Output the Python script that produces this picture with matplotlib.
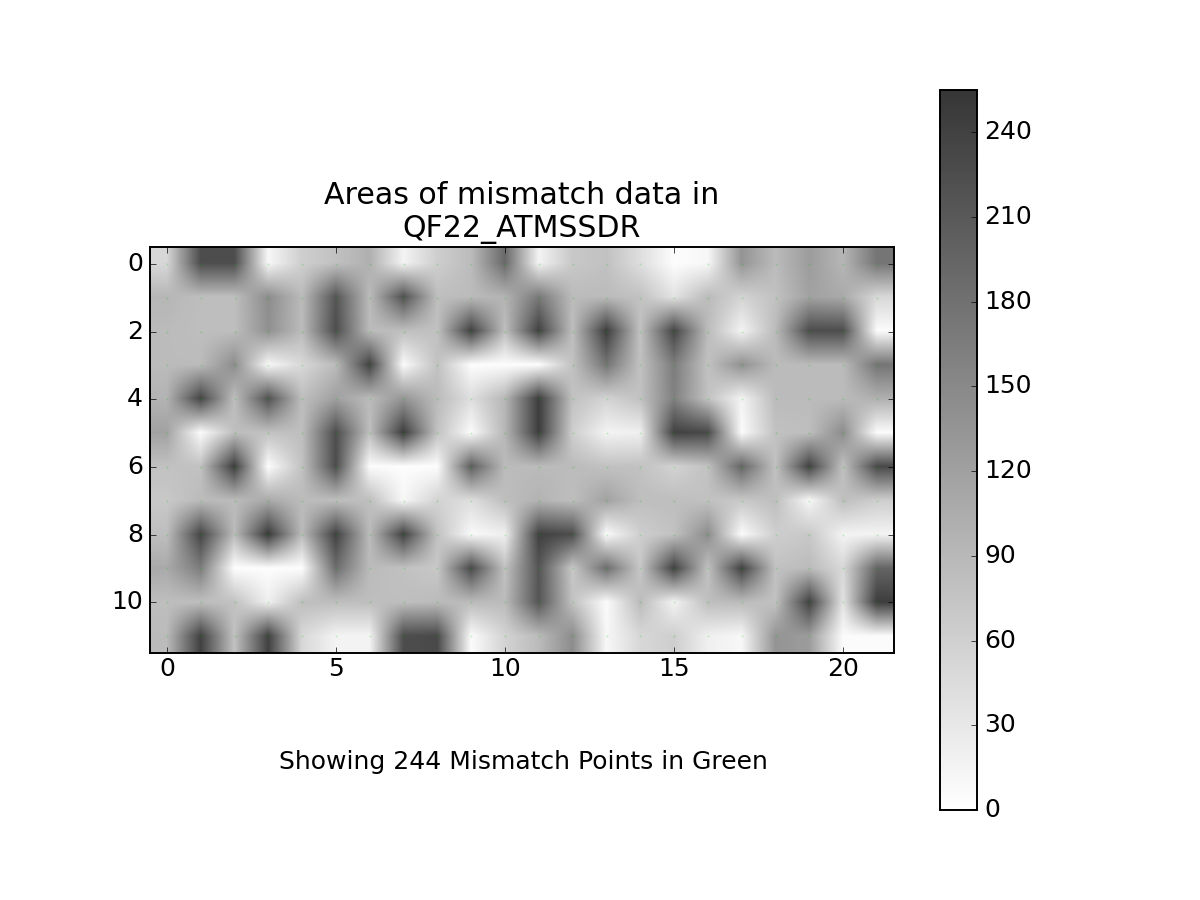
# Areas of mismatch data, grey image with colorbar
import numpy as np
import matplotlib
matplotlib.use("Agg")
import matplotlib.pyplot as plt
from matplotlib.colors import LinearSegmentedColormap
from matplotlib.ticker import MultipleLocator

plt.style.use("classic")
plt.rcParams.update({"font.family": "DejaVu Sans", "font.size": 18})

title_text = "Areas of mismatch data in\nQF22_ATMSSDR"
note_text = "Showing 244 Mismatch Points in Green"
n_points = 244

# values, one list per row
row0 = [50, 225, 225, 10, 62, 78, 100, 15, 62, 86, 190, 15, 70, 78, 42, 3, 10, 135, 86, 125, 92, 175]
row1 = [92, 82, 82, 145, 86, 215, 86, 220, 82, 86, 96, 170, 86, 86, 78, 36, 86, 56, 78, 118, 108, 50]
row2 = [86, 82, 82, 140, 86, 225, 86, 82, 78, 240, 82, 240, 82, 245, 78, 235, 86, 15, 86, 225, 225, 5]
row3 = [86, 86, 145, 10, 50, 86, 240, 5, 78, 3, 3, 3, 78, 175, 78, 165, 78, 140, 86, 86, 86, 175]
row4 = [96, 235, 82, 220, 82, 120, 86, 135, 86, 42, 92, 245, 78, 56, 78, 160, 78, 15, 86, 86, 86, 100]
row5 = [118, 5, 82, 78, 82, 225, 82, 245, 78, 5, 92, 245, 62, 15, 20, 240, 230, 5, 78, 82, 145, 5]
row6 = [78, 78, 245, 3, 78, 225, 5, 3, 3, 205, 86, 86, 86, 78, 78, 56, 78, 195, 78, 240, 78, 230]
row7 = [70, 86, 86, 108, 86, 82, 82, 10, 56, 42, 82, 96, 82, 118, 82, 82, 78, 70, 82, 10, 82, 62]
row8 = [82, 235, 86, 250, 86, 240, 86, 240, 78, 8, 20, 240, 225, 5, 62, 78, 145, 5, 62, 70, 15, 15]
row9 = [108, 165, 3, 3, 3, 185, 86, 78, 70, 230, 78, 215, 70, 185, 70, 240, 78, 240, 78, 86, 50, 195]
row10 = [82, 82, 78, 20, 82, 82, 82, 82, 86, 86, 86, 215, 78, 5, 86, 15, 82, 86, 78, 240, 36, 245]
row11 = [86, 240, 78, 240, 50, 15, 15, 225, 230, 5, 56, 86, 145, 10, 50, 62, 20, 10, 135, 125, 5, 5]

grid = np.array([row0, row1, row2, row3, row4, row5, row6, row7, row8, row9, row10, row11], dtype=float)

# mismatch points, the lowest cells are left out
order = np.argsort(grid.ravel())[grid.size - n_points:]
pts_y, pts_x = np.unravel_index(order, grid.shape)

cmap = LinearSegmentedColormap.from_list("grey_alpha", ["#ffffff", "#363636"])

fig = plt.figure(figsize=(12, 9), dpi=100, facecolor="white")
ax = fig.add_axes([150 / 1200, 1 - 653 / 900, 744 / 1200, 406 / 900])
im = ax.imshow(grid, cmap=cmap, vmin=0, vmax=255, interpolation="bilinear", aspect="auto")
ax.scatter(pts_x, pts_y, s=2, c="#00b000", alpha=0.2, linewidths=0)
ax.set_xlim(-0.5, 21.5)
ax.set_ylim(11.5, -0.5)
ax.set_xticks(range(0, 21, 5))
ax.set_yticks(range(0, 11, 2))
ax.tick_params(axis="x", labelsize=18, pad=3)
ax.tick_params(axis="y", labelsize=18, pad=5)
ax.set_title(title_text, fontsize=21.6, linespacing=1.2, pad=7)
for sp in ax.spines.values():
    sp.set_linewidth(1.4)

cax = fig.add_axes([940 / 1200, 1 - 810 / 900, 37 / 1200, 720 / 900])
cb = fig.colorbar(im, cax=cax)
cb.locator = MultipleLocator(30)
cb.update_ticks()
cb.ax.tick_params(labelsize=18, pad=5)
cb.outline.set_linewidth(1.4)

fig.text(523 / 1200, 1 - 762 / 900, note_text, ha="center", va="center", fontsize=18)

fig.savefig("out.png", dpi=100, facecolor="white")
